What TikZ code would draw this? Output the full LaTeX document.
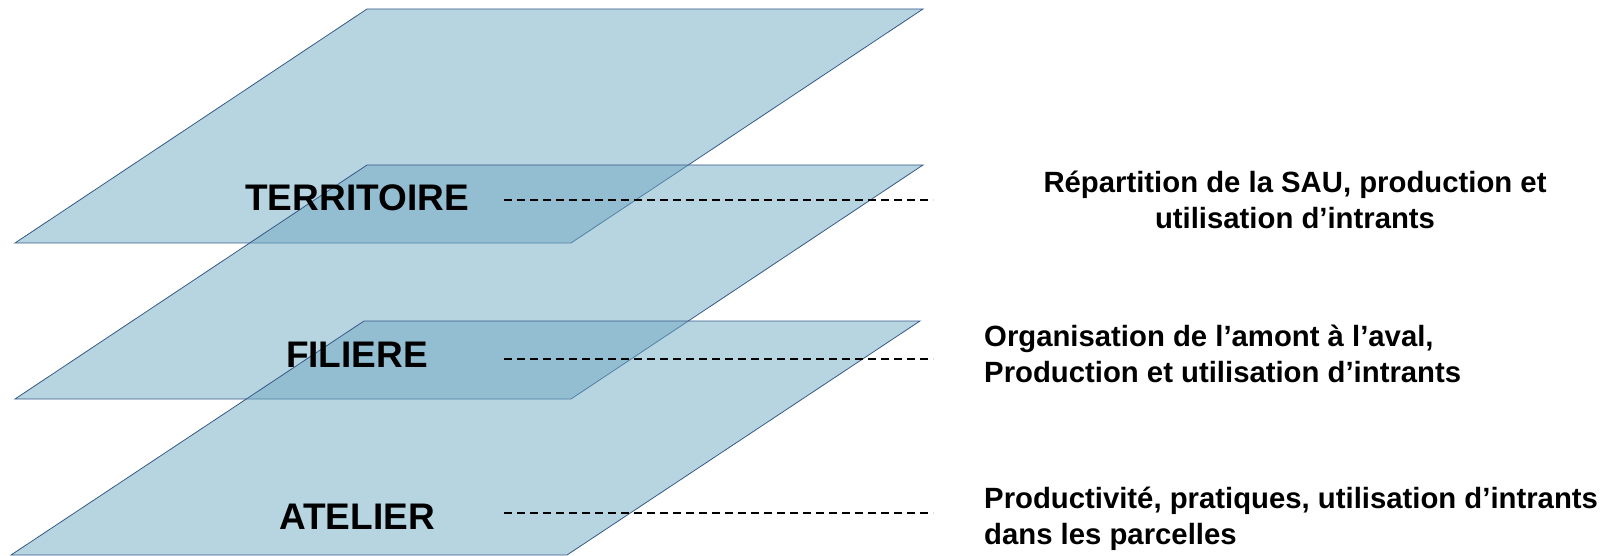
\documentclass[tikz,border=0pt]{standalone}
\usepackage{fontspec}
\setmainfont{Liberation Sans}
\usetikzlibrary{positioning}
\definecolor{planfill}{RGB}{111,169,195}
\definecolor{planedge}{RGB}{55,90,135}

\begin{document}
\begin{tikzpicture}[x=1pt, y=-1pt,
    plan/.style={fill=planfill, fill opacity=0.5, draw=planedge, draw opacity=1, line width=0.8pt},
    niveau/.style={font=\fontsize{37}{40}\selectfont\bfseries},
    legende/.style={font=\fontsize{29.3}{35.5}\selectfont\bfseries, inner sep=0pt},
    pointille/.style={black, line width=1.6pt, dash pattern=on 8pt off 5pt}]

    \useasboundingbox (0,0) rectangle (1604,556);

    % === PLANS ===
    \draw[plan] (367,9) -- (923,9) -- (571,243) -- (15,243) -- cycle;
    \draw[plan] (367,165) -- (923,165) -- (571,399) -- (15,399) -- cycle;
    \draw[plan] (364,321) -- (920,321) -- (567,555) -- (11,555) -- cycle;

    % === NIVEAUX ===
    \node[niveau] (territoire) at (357,198) {TERRITOIRE};
    \node[niveau] (filiere) at (357,355) {FILIERE};
    \node[niveau] (atelier) at (357,517) {ATELIER};

    % === LEGENDES ===
    \node[legende, align=center] (legterritoire) at (1295,200)
        {Répartition de la SAU, production et\\utilisation d’intrants};
    \node[legende, align=left, anchor=west] (legfiliere) at (984,354)
        {Organisation de l’amont à l’aval,\\Production et utilisation d’intrants};
    \node[legende, align=left, anchor=west] (legatelier) at (984,519)
        {Productivité, pratiques, utilisation d’intrants\\dans les parcelles};

    % pointillés
    \coordinate (t1) at (504,200);
    \coordinate (t2) at (933,200);
    \coordinate (f1) at (504,359);
    \coordinate (f2) at (933,359);
    \coordinate (a1) at (504,513);
    \coordinate (a2) at (933,513);
    \draw[pointille] (t1) -- (t2);
    \draw[pointille] (f1) -- (f2);
    \draw[pointille] (a1) -- (a2);

\end{tikzpicture}
\end{document}
